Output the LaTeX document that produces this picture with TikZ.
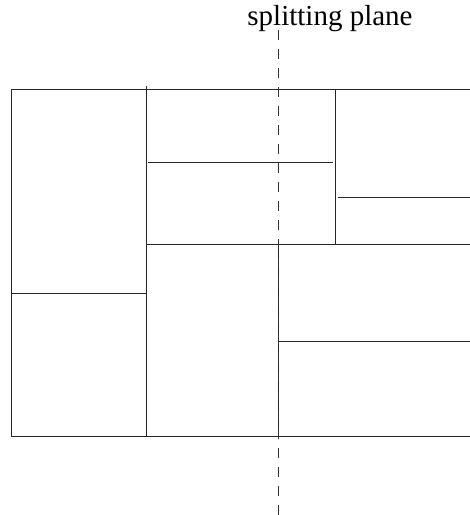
\documentclass[tikz,border=0pt]{standalone}
\usepackage{fontspec}
\setmainfont{Liberation Serif}
\begin{document}
\begin{tikzpicture}[x=1pt,y=-1pt,
  cell/.style={line width=1pt,draw=black!85},
  plane/.style={line width=1pt,draw=black!80,dash pattern=on 10pt off 9pt}]
\useasboundingbox (0,0) rectangle (470,515);
% outer frame
\draw[cell] (470,89) -- (11,89) -- (11,436) -- (470,436);
% cuts
\draw[cell] (146,86) -- (146,436);
\draw[cell] (11,293) -- (146,293);
\draw[cell] (148,162) -- (333,162);
\draw[cell] (335,89) -- (335,244);
\draw[cell] (146,244) -- (470,244);
\draw[cell] (338,197) -- (470,197);
\draw[cell] (278,244) -- (278,436);
\draw[cell] (278,341) -- (470,341);
% splitting plane
\coordinate (pt) at (278,30);
\coordinate (pb) at (278,515);
\draw[plane] (pt) -- (pb);
\node[anchor=base,inner sep=0pt,font=\fontsize{29}{32}\selectfont] (lbl) at (330,25.5) {splitting plane};
\end{tikzpicture}
\end{document}
